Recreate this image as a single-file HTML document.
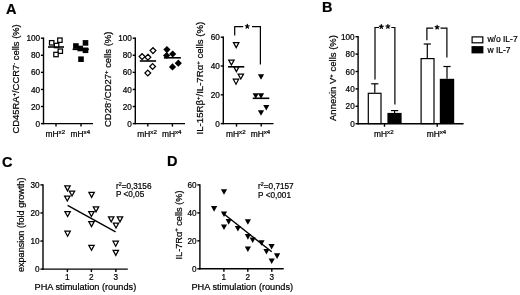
<!DOCTYPE html>
<html><head><meta charset="utf-8"><style>
html,body{margin:0;padding:0;background:#fff;}
svg{display:block;will-change:transform;}
text{font-family:"Liberation Sans", sans-serif;fill:#000;stroke:#000;stroke-width:0.22px;}
.ax{stroke:#000;stroke-width:1.4;fill:none;}
</style></head><body>
<svg width="520" height="295" viewBox="0 0 520 295">
<text x="5.9" y="13.5" font-size="14.5" font-weight="bold">A</text>
<text x="321.9" y="12.3" font-size="14.5" font-weight="bold">B</text>
<text x="1.9" y="167.1" font-size="14.5" font-weight="bold">C</text>
<text x="167.0" y="166.2" font-size="14.5" font-weight="bold">D</text>
<line x1="43.5" y1="124.3" x2="43.5" y2="37.5" class="ax"/>
<line x1="43.5" y1="123.6" x2="40.9" y2="123.6" class="ax"/>
<text x="40.1" y="126.69999999999999" text-anchor="end" font-size="8.2">0</text>
<line x1="43.5" y1="106.52" x2="40.9" y2="106.52" class="ax"/>
<text x="40.1" y="109.61999999999999" text-anchor="end" font-size="8.2">20</text>
<line x1="43.5" y1="89.44" x2="40.9" y2="89.44" class="ax"/>
<text x="40.1" y="92.53999999999999" text-anchor="end" font-size="8.2">40</text>
<line x1="43.5" y1="72.36000000000001" x2="40.9" y2="72.36000000000001" class="ax"/>
<text x="40.1" y="75.46000000000001" text-anchor="end" font-size="8.2">60</text>
<line x1="43.5" y1="55.28" x2="40.9" y2="55.28" class="ax"/>
<text x="40.1" y="58.38" text-anchor="end" font-size="8.2">80</text>
<line x1="43.5" y1="38.19999999999999" x2="40.9" y2="38.19999999999999" class="ax"/>
<text x="40.1" y="41.29999999999999" text-anchor="end" font-size="8.2">100</text>
<line x1="42.8" y1="123.6" x2="93" y2="123.6" class="ax"/>
<line x1="56" y1="123.6" x2="56" y2="126.6" class="ax"/>
<text x="55.3" y="136.6" text-anchor="middle" font-size="8.2"><tspan font-size="8.4">mH<tspan font-size="6.2" dy="-2.3">x2</tspan></tspan></text>
<line x1="81" y1="123.6" x2="81" y2="126.6" class="ax"/>
<text x="80.3" y="136.6" text-anchor="middle" font-size="8.2"><tspan font-size="8.4">mH<tspan font-size="6.2" dy="-2.3">x4</tspan></tspan></text>
<text transform="translate(19.4,78.9) rotate(-90)" text-anchor="middle" font-size="9.4">CD45RA<tspan font-size="6.02" dy="-3.38">+</tspan><tspan dy="3.38">/CCR7<tspan font-size="6.02" dy="-3.38">-</tspan><tspan dy="3.38"> cells (%)</tspan></tspan></text>
<rect x="49.5" y="40.599999999999994" width="4.4" height="4.4" fill="#fff" stroke="#000" stroke-width="1.25"/>
<rect x="57.699999999999996" y="38.0" width="4.4" height="4.4" fill="#fff" stroke="#000" stroke-width="1.25"/>
<rect x="54.4" y="43.3" width="4.4" height="4.4" fill="#fff" stroke="#000" stroke-width="1.25"/>
<rect x="58.099999999999994" y="49.0" width="4.4" height="4.4" fill="#fff" stroke="#000" stroke-width="1.25"/>
<rect x="53.8" y="52.3" width="4.4" height="4.4" fill="#fff" stroke="#000" stroke-width="1.25"/>
<line x1="48" y1="47" x2="64" y2="47" stroke="#000" stroke-width="1.6"/>
<rect x="73.10000000000001" y="43.2" width="5.6" height="5.6" fill="#000"/>
<rect x="82.7" y="40.1" width="5.6" height="5.6" fill="#000"/>
<rect x="77.4" y="45.7" width="5.6" height="5.6" fill="#000"/>
<rect x="82.7" y="47.5" width="5.6" height="5.6" fill="#000"/>
<rect x="78.2" y="56.400000000000006" width="5.6" height="5.6" fill="#000"/>
<line x1="72.6" y1="49.3" x2="88.9" y2="49.3" stroke="#000" stroke-width="1.6"/>
<line x1="135.3" y1="124.3" x2="135.3" y2="37.5" class="ax"/>
<line x1="135.3" y1="123.6" x2="132.70000000000002" y2="123.6" class="ax"/>
<text x="131.9" y="126.69999999999999" text-anchor="end" font-size="8.2">0</text>
<line x1="135.3" y1="106.52" x2="132.70000000000002" y2="106.52" class="ax"/>
<text x="131.9" y="109.61999999999999" text-anchor="end" font-size="8.2">20</text>
<line x1="135.3" y1="89.44" x2="132.70000000000002" y2="89.44" class="ax"/>
<text x="131.9" y="92.53999999999999" text-anchor="end" font-size="8.2">40</text>
<line x1="135.3" y1="72.36000000000001" x2="132.70000000000002" y2="72.36000000000001" class="ax"/>
<text x="131.9" y="75.46000000000001" text-anchor="end" font-size="8.2">60</text>
<line x1="135.3" y1="55.28" x2="132.70000000000002" y2="55.28" class="ax"/>
<text x="131.9" y="58.38" text-anchor="end" font-size="8.2">80</text>
<line x1="135.3" y1="38.19999999999999" x2="132.70000000000002" y2="38.19999999999999" class="ax"/>
<text x="131.9" y="41.29999999999999" text-anchor="end" font-size="8.2">100</text>
<line x1="134.60000000000002" y1="123.6" x2="185" y2="123.6" class="ax"/>
<line x1="147.8" y1="123.6" x2="147.8" y2="126.6" class="ax"/>
<text x="147.10000000000002" y="136.6" text-anchor="middle" font-size="8.2"><tspan font-size="8.4">mH<tspan font-size="6.2" dy="-2.3">x2</tspan></tspan></text>
<line x1="172.4" y1="123.6" x2="172.4" y2="126.6" class="ax"/>
<text x="171.70000000000002" y="136.6" text-anchor="middle" font-size="8.2"><tspan font-size="8.4">mH<tspan font-size="6.2" dy="-2.3">x4</tspan></tspan></text>
<text transform="translate(111.3,79.3) rotate(-90)" text-anchor="middle" font-size="9.45">CD28<tspan font-size="6.05" dy="-3.4">-</tspan><tspan dy="3.4">/CD27<tspan font-size="6.05" dy="-3.4">+</tspan><tspan dy="3.4"> cells (%)</tspan></tspan></text>
<path d="M142.1 53.7L145.0 56.6L142.1 59.5L139.2 56.6Z" fill="#fff" stroke="#000" stroke-width="1.25"/>
<path d="M147.9 54.300000000000004L150.8 57.2L147.9 60.1L145.0 57.2Z" fill="#fff" stroke="#000" stroke-width="1.25"/>
<path d="M153 47.7L155.9 50.6L153 53.5L150.1 50.6Z" fill="#fff" stroke="#000" stroke-width="1.25"/>
<path d="M152.6 63.6L155.5 66.5L152.6 69.4L149.7 66.5Z" fill="#fff" stroke="#000" stroke-width="1.25"/>
<path d="M147.8 70.1L150.70000000000002 73L147.8 75.9L144.9 73Z" fill="#fff" stroke="#000" stroke-width="1.25"/>
<line x1="139.8" y1="61" x2="156.1" y2="61" stroke="#000" stroke-width="1.6"/>
<path d="M166.9 46.0L170.5 49.6L166.9 53.2L163.3 49.6Z" fill="#000"/>
<path d="M166.6 51.9L170.2 55.5L166.6 59.1L163.0 55.5Z" fill="#000"/>
<path d="M172.7 50.4L176.29999999999998 54L172.7 57.6L169.1 54Z" fill="#000"/>
<path d="M178.3 59.6L181.9 63.2L178.3 66.8L174.70000000000002 63.2Z" fill="#000"/>
<path d="M172.5 63.300000000000004L176.1 66.9L172.5 70.5L168.9 66.9Z" fill="#000"/>
<line x1="163.9" y1="57.8" x2="180.9" y2="57.8" stroke="#000" stroke-width="1.6"/>
<line x1="223.3" y1="124.3" x2="223.3" y2="36.5" class="ax"/>
<line x1="223.3" y1="123.6" x2="220.70000000000002" y2="123.6" class="ax"/>
<text x="219.9" y="126.69999999999999" text-anchor="end" font-size="8.2">0</text>
<line x1="223.3" y1="94.8" x2="220.70000000000002" y2="94.8" class="ax"/>
<text x="219.9" y="97.89999999999999" text-anchor="end" font-size="8.2">20</text>
<line x1="223.3" y1="66.0" x2="220.70000000000002" y2="66.0" class="ax"/>
<text x="219.9" y="69.1" text-anchor="end" font-size="8.2">40</text>
<line x1="223.3" y1="37.2" x2="220.70000000000002" y2="37.2" class="ax"/>
<text x="219.9" y="40.300000000000004" text-anchor="end" font-size="8.2">60</text>
<line x1="222.60000000000002" y1="123.6" x2="273.5" y2="123.6" class="ax"/>
<line x1="236.5" y1="123.6" x2="236.5" y2="126.6" class="ax"/>
<text x="235.8" y="136.7" text-anchor="middle" font-size="8.2"><tspan font-size="8.4">mH<tspan font-size="6.2" dy="-2.3">x2</tspan></tspan></text>
<line x1="261.2" y1="123.6" x2="261.2" y2="126.6" class="ax"/>
<text x="260.5" y="136.7" text-anchor="middle" font-size="8.2"><tspan font-size="8.4">mH<tspan font-size="6.2" dy="-2.3">x4</tspan></tspan></text>
<text transform="translate(203.2,78.1) rotate(-90)" text-anchor="middle" font-size="9.6">IL-15R&#946;<tspan font-size="6.14" dy="-3.46">+</tspan><tspan dy="3.46">/IL-7R&#945;<tspan font-size="6.14" dy="-3.46">+</tspan><tspan dy="3.46"> cells (%)</tspan></tspan></text>
<path d="M233.5 42.6L238.89999999999998 42.6L236.2 47.6Z" fill="#fff" stroke="#000" stroke-width="1.25" stroke-linejoin="miter"/>
<path d="M228.70000000000002 60.0L234.1 60.0L231.4 65.0Z" fill="#fff" stroke="#000" stroke-width="1.25" stroke-linejoin="miter"/>
<path d="M233.70000000000002 66.6L239.1 66.6L236.4 71.6Z" fill="#fff" stroke="#000" stroke-width="1.25" stroke-linejoin="miter"/>
<path d="M238.10000000000002 74.0L243.5 74.0L240.8 79.0Z" fill="#fff" stroke="#000" stroke-width="1.25" stroke-linejoin="miter"/>
<path d="M233.3 79.19999999999999L238.7 79.19999999999999L236 84.19999999999999Z" fill="#fff" stroke="#000" stroke-width="1.25" stroke-linejoin="miter"/>
<line x1="228" y1="66.8" x2="244.3" y2="66.8" stroke="#000" stroke-width="1.6"/>
<path d="M257.9 74.2L264.1 74.2L261 79.8Z" fill="#000"/>
<path d="M252.6 93.2L258.8 93.2L255.7 98.8Z" fill="#000"/>
<path d="M257.9 93.2L264.1 93.2L261 98.8Z" fill="#000"/>
<path d="M263.2 105.0L269.40000000000003 105.0L266.3 110.6Z" fill="#000"/>
<path d="M257.9 110.2L264.1 110.2L261 115.8Z" fill="#000"/>
<line x1="252.7" y1="98.3" x2="269.3" y2="98.3" stroke="#000" stroke-width="1.6"/>
<path d="M234.7 35.4V26.7H243.2M252.0 26.7H260.4V64.4" fill="none" stroke="#000" stroke-width="1.2"/>
<path d="M247.30 26.40L247.30 24.40M247.30 26.40L249.20 25.78M247.30 26.40L248.48 28.02M247.30 26.40L246.12 28.02M247.30 26.40L245.40 25.78" stroke="#000" stroke-width="1.25" stroke-linecap="round" fill="none"/>
<line x1="358.1" y1="124.4" x2="358.1" y2="36.0" class="ax"/>
<line x1="358.1" y1="123.7" x2="355.5" y2="123.7" class="ax"/>
<text x="354.70000000000005" y="126.8" text-anchor="end" font-size="8.2">0</text>
<line x1="358.1" y1="106.30000000000001" x2="355.5" y2="106.30000000000001" class="ax"/>
<text x="354.70000000000005" y="109.4" text-anchor="end" font-size="8.2">20</text>
<line x1="358.1" y1="88.9" x2="355.5" y2="88.9" class="ax"/>
<text x="354.70000000000005" y="92.0" text-anchor="end" font-size="8.2">40</text>
<line x1="358.1" y1="71.5" x2="355.5" y2="71.5" class="ax"/>
<text x="354.70000000000005" y="74.6" text-anchor="end" font-size="8.2">60</text>
<line x1="358.1" y1="54.10000000000001" x2="355.5" y2="54.10000000000001" class="ax"/>
<text x="354.70000000000005" y="57.20000000000001" text-anchor="end" font-size="8.2">80</text>
<line x1="358.1" y1="36.7" x2="355.5" y2="36.7" class="ax"/>
<text x="354.70000000000005" y="39.800000000000004" text-anchor="end" font-size="8.2">100</text>
<line x1="357.40000000000003" y1="123.7" x2="463.6" y2="123.7" class="ax"/>
<line x1="384.5" y1="123.7" x2="384.5" y2="126.7" class="ax"/>
<text x="383.8" y="136.7" text-anchor="middle" font-size="8.2"><tspan font-size="8.4">mH<tspan font-size="6.2" dy="-2.3">x2</tspan></tspan></text>
<line x1="437.2" y1="123.7" x2="437.2" y2="126.7" class="ax"/>
<text x="436.5" y="136.7" text-anchor="middle" font-size="8.2"><tspan font-size="8.4">mH<tspan font-size="6.2" dy="-2.3">x4</tspan></tspan></text>
<text transform="translate(336.2,78.0) rotate(-90)" text-anchor="middle" font-size="9.5">Annexin V<tspan font-size="6.08" dy="-3.42">+</tspan><tspan dy="3.42"> cells (%)</tspan></text>
<line x1="374.8" y1="92.7" x2="374.8" y2="83.8" stroke="#000" stroke-width="1.2"/>
<line x1="371.2" y1="83.8" x2="378.40000000000003" y2="83.8" stroke="#000" stroke-width="1.2"/>
<rect x="368.3" y="93.3" width="12.700000000000035" height="30.29999999999999" fill="#fff" stroke="#000" stroke-width="1.2"/>
<line x1="394.6" y1="112.9" x2="394.6" y2="110.6" stroke="#000" stroke-width="1.2"/>
<line x1="391.0" y1="110.6" x2="398.20000000000005" y2="110.6" stroke="#000" stroke-width="1.2"/>
<rect x="387.4" y="112.9" width="14.200000000000045" height="10.699999999999989" fill="#000"/>
<line x1="427.3" y1="58" x2="427.3" y2="44.0" stroke="#000" stroke-width="1.2"/>
<line x1="423.7" y1="44.0" x2="430.90000000000003" y2="44.0" stroke="#000" stroke-width="1.2"/>
<rect x="421.1" y="58.6" width="12.900000000000023" height="65.0" fill="#fff" stroke="#000" stroke-width="1.2"/>
<line x1="447.0" y1="78.8" x2="447.0" y2="66.5" stroke="#000" stroke-width="1.2"/>
<line x1="443.4" y1="66.5" x2="450.6" y2="66.5" stroke="#000" stroke-width="1.2"/>
<rect x="439.8" y="78.8" width="14.399999999999977" height="44.8" fill="#000"/>
<path d="M375.0 79.4V27.5H379.0M391.3 27.5H394.9V104.5" fill="none" stroke="#000" stroke-width="1.2"/>
<path d="M381.30 26.70L381.30 24.70M381.30 26.70L383.20 26.08M381.30 26.70L382.48 28.32M381.30 26.70L380.12 28.32M381.30 26.70L379.40 26.08" stroke="#000" stroke-width="1.25" stroke-linecap="round" fill="none"/>
<path d="M387.90 26.50L387.90 24.50M387.90 26.50L389.80 25.88M387.90 26.50L389.08 28.12M387.90 26.50L386.72 28.12M387.90 26.50L386.00 25.88" stroke="#000" stroke-width="1.25" stroke-linecap="round" fill="none"/>
<path d="M426.9 40.3V28.2H433.2M440.5 28.2H446.9V57.6" fill="none" stroke="#000" stroke-width="1.2"/>
<path d="M437.10 27.30L437.10 25.30M437.10 27.30L439.00 26.68M437.10 27.30L438.28 28.92M437.10 27.30L435.92 28.92M437.10 27.30L435.20 26.68" stroke="#000" stroke-width="1.25" stroke-linecap="round" fill="none"/>
<rect x="472.1" y="36.9" width="10.7" height="5.9" fill="#fff" stroke="#000" stroke-width="1.2"/>
<rect x="471.5" y="46.1" width="11.9" height="7.3" fill="#000"/>
<text x="487.4" y="42.4" font-size="8.5">w/o IL-7</text>
<text x="487.4" y="53.0" font-size="8.5">w IL-7</text>
<line x1="43.0" y1="269.8" x2="43.0" y2="184.20000000000002" class="ax"/>
<line x1="43.0" y1="269.1" x2="40.4" y2="269.1" class="ax"/>
<text x="39.6" y="272.20000000000005" text-anchor="end" font-size="8.2">0</text>
<line x1="43.0" y1="241.03333333333336" x2="40.4" y2="241.03333333333336" class="ax"/>
<text x="39.6" y="244.13333333333335" text-anchor="end" font-size="8.2">10</text>
<line x1="43.0" y1="212.96666666666667" x2="40.4" y2="212.96666666666667" class="ax"/>
<text x="39.6" y="216.06666666666666" text-anchor="end" font-size="8.2">20</text>
<line x1="43.0" y1="184.9" x2="40.4" y2="184.9" class="ax"/>
<text x="39.6" y="188.0" text-anchor="end" font-size="8.2">30</text>
<line x1="42.3" y1="269.1" x2="127.8" y2="269.1" class="ax"/>
<line x1="67.4" y1="269.1" x2="67.4" y2="272.1" class="ax"/>
<text x="67.4" y="279.9" text-anchor="middle" font-size="8.2">1</text>
<line x1="91.4" y1="269.1" x2="91.4" y2="272.1" class="ax"/>
<text x="91.4" y="279.9" text-anchor="middle" font-size="8.2">2</text>
<line x1="115.9" y1="269.1" x2="115.9" y2="272.1" class="ax"/>
<text x="115.9" y="279.9" text-anchor="middle" font-size="8.2">3</text>
<text x="85.4" y="290.1" text-anchor="middle" font-size="9.2">PHA stimulation (rounds)</text>
<text transform="translate(24.2,224.8) rotate(-90)" text-anchor="middle" font-size="9.1">expansion (fold growth)</text>
<path d="M64.8 185.9L70.2 185.9L67.5 190.9Z" fill="#fff" stroke="#000" stroke-width="1.25" stroke-linejoin="miter"/>
<path d="M69.3 191.0L74.7 191.0L72 196.0Z" fill="#fff" stroke="#000" stroke-width="1.25" stroke-linejoin="miter"/>
<path d="M64.6 196.0L70.0 196.0L67.3 201.0Z" fill="#fff" stroke="#000" stroke-width="1.25" stroke-linejoin="miter"/>
<path d="M64.89999999999999 211.5L70.3 211.5L67.6 216.5Z" fill="#fff" stroke="#000" stroke-width="1.25" stroke-linejoin="miter"/>
<path d="M64.89999999999999 231.2L70.3 231.2L67.6 236.2Z" fill="#fff" stroke="#000" stroke-width="1.25" stroke-linejoin="miter"/>
<path d="M88.89999999999999 192.4L94.3 192.4L91.6 197.4Z" fill="#fff" stroke="#000" stroke-width="1.25" stroke-linejoin="miter"/>
<path d="M93.3 206.9L98.7 206.9L96 211.9Z" fill="#fff" stroke="#000" stroke-width="1.25" stroke-linejoin="miter"/>
<path d="M88.7 211.5L94.10000000000001 211.5L91.4 216.5Z" fill="#fff" stroke="#000" stroke-width="1.25" stroke-linejoin="miter"/>
<path d="M88.8 221.6L94.2 221.6L91.5 226.6Z" fill="#fff" stroke="#000" stroke-width="1.25" stroke-linejoin="miter"/>
<path d="M88.8 245.29999999999998L94.2 245.29999999999998L91.5 250.29999999999998Z" fill="#fff" stroke="#000" stroke-width="1.25" stroke-linejoin="miter"/>
<path d="M108.5 216.9L113.9 216.9L111.2 221.9Z" fill="#fff" stroke="#000" stroke-width="1.25" stroke-linejoin="miter"/>
<path d="M117.3 216.9L122.7 216.9L120 221.9Z" fill="#fff" stroke="#000" stroke-width="1.25" stroke-linejoin="miter"/>
<path d="M113.3 223.0L118.7 223.0L116 228.0Z" fill="#fff" stroke="#000" stroke-width="1.25" stroke-linejoin="miter"/>
<path d="M113.0 241.2L118.4 241.2L115.7 246.2Z" fill="#fff" stroke="#000" stroke-width="1.25" stroke-linejoin="miter"/>
<path d="M113.1 250.4L118.5 250.4L115.8 255.4Z" fill="#fff" stroke="#000" stroke-width="1.25" stroke-linejoin="miter"/>
<line x1="67.6" y1="205.4" x2="115.6" y2="231.9" stroke="#000" stroke-width="1.3"/>
<text x="115.9" y="188.7" font-size="8.2">r<tspan font-size="5.4" dy="-2.3">2</tspan><tspan dy="2.3">=0,3156</tspan></text>
<text x="115.9" y="197.4" font-size="8.2">P &lt;0,05</text>
<line x1="199.9" y1="269.5" x2="199.9" y2="184.20000000000002" class="ax"/>
<line x1="199.9" y1="268.8" x2="197.3" y2="268.8" class="ax"/>
<text x="196.5" y="271.90000000000003" text-anchor="end" font-size="8.2">0</text>
<line x1="199.9" y1="240.83333333333334" x2="197.3" y2="240.83333333333334" class="ax"/>
<text x="196.5" y="243.93333333333334" text-anchor="end" font-size="8.2">20</text>
<line x1="199.9" y1="212.86666666666667" x2="197.3" y2="212.86666666666667" class="ax"/>
<text x="196.5" y="215.96666666666667" text-anchor="end" font-size="8.2">40</text>
<line x1="199.9" y1="184.9" x2="197.3" y2="184.9" class="ax"/>
<text x="196.5" y="188.0" text-anchor="end" font-size="8.2">60</text>
<line x1="199.20000000000002" y1="268.8" x2="283.7" y2="268.8" class="ax"/>
<line x1="223.9" y1="268.8" x2="223.9" y2="271.8" class="ax"/>
<text x="223.9" y="279.8" text-anchor="middle" font-size="8.2">1</text>
<line x1="247.8" y1="268.8" x2="247.8" y2="271.8" class="ax"/>
<text x="247.8" y="279.8" text-anchor="middle" font-size="8.2">2</text>
<line x1="271.8" y1="268.8" x2="271.8" y2="271.8" class="ax"/>
<text x="271.8" y="279.8" text-anchor="middle" font-size="8.2">3</text>
<text x="242.3" y="290.0" text-anchor="middle" font-size="9.2">PHA stimulation (rounds)</text>
<text transform="translate(181.7,225.0) rotate(-90)" text-anchor="middle" font-size="9.2">IL-7R&#945;<tspan font-size="5.89" dy="-3.31">+</tspan><tspan dy="3.31"> cells (%)</tspan></text>
<path d="M220.9 189.2L227.1 189.2L224 194.79999999999998Z" fill="#000"/>
<path d="M211.0 206.1L217.2 206.1L214.1 211.7Z" fill="#000"/>
<path d="M220.9 211.5L227.1 211.5L224 217.1Z" fill="#000"/>
<path d="M225.6 219.1L231.79999999999998 219.1L228.7 224.7Z" fill="#000"/>
<path d="M220.9 224.5L227.1 224.5L224 230.1Z" fill="#000"/>
<path d="M244.8 219.2L251.0 219.2L247.9 224.79999999999998Z" fill="#000"/>
<path d="M234.8 225.9L241.0 225.9L237.9 231.5Z" fill="#000"/>
<path d="M244.8 234.1L251.0 234.1L247.9 239.7Z" fill="#000"/>
<path d="M249.6 237.5L255.79999999999998 237.5L252.7 243.1Z" fill="#000"/>
<path d="M244.8 246.4L251.0 246.4L247.9 252.0Z" fill="#000"/>
<path d="M258.4 240.2L264.6 240.2L261.5 245.79999999999998Z" fill="#000"/>
<path d="M268.5 244.0L274.70000000000005 244.0L271.6 249.6Z" fill="#000"/>
<path d="M263.4 249.0L269.6 249.0L266.5 254.6Z" fill="#000"/>
<path d="M274.0 253.3L280.20000000000005 253.3L277.1 258.90000000000003Z" fill="#000"/>
<path d="M268.59999999999997 258.5L274.8 258.5L271.7 264.1Z" fill="#000"/>
<line x1="222.4" y1="212.8" x2="271.7" y2="251.8" stroke="#000" stroke-width="1.4"/>
<text x="258.1" y="188.7" font-size="8.2">r<tspan font-size="5.4" dy="-2.3">2</tspan><tspan dy="2.3">=0,7157</tspan></text>
<text x="258.1" y="197.6" font-size="8.2">P &lt;0,001</text>
</svg></body></html>
